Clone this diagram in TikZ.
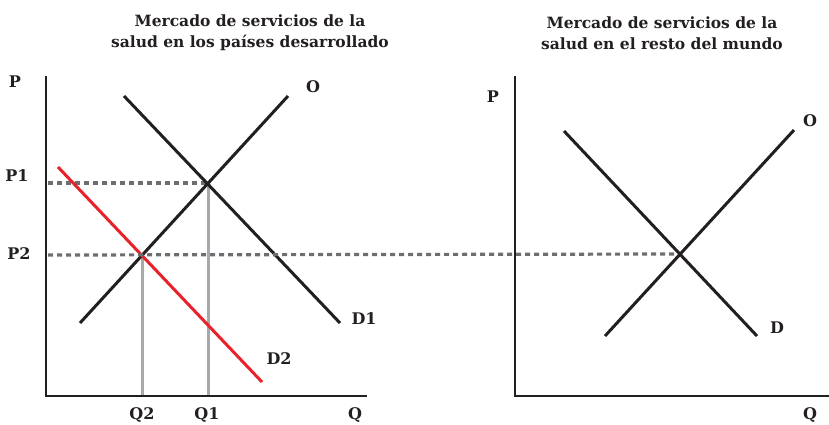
\documentclass[tikz,border=0pt]{standalone}
\usepackage{fontspec}
\setmainfont{DejaVu Serif}
\usetikzlibrary{positioning}

\definecolor{curveblack}{HTML}{231F20}
\definecolor{demandred}{HTML}{E8212A}
\definecolor{guidegray}{HTML}{A7A9AC}
\definecolor{dashgray}{HTML}{6D6E71}

\begin{document}
\begin{tikzpicture}[
		x=1pt, y=-1pt,
		curve/.style={line width=3pt, draw=curveblack},
		axis/.style={line width=2pt, draw=curveblack},
		guide/.style={line width=3pt, draw=guidegray},
		level/.style={line width=3.2pt, draw=dashgray, dash pattern=on 5pt off 4pt},
		lbl/.style={font=\bfseries\fontsize{16}{18}\selectfont, text=curveblack, inner sep=0pt},
		title/.style={font=\bfseries\fontsize{15.5}{21}\selectfont, align=center, text=curveblack},
	]
		\useasboundingbox (0,0) rectangle (829,424);

		% titles
		\node [title] (titleleft) at (250,33) {Mercado de servicios de la\\salud en los países desarrollado};
		\node [title] (titleright) at (662,33) {Mercado de servicios de la\\salud en el resto del mundo};

		% left market
		\coordinate (ltop) at (46,76);
		\coordinate (lorigin) at (46,396);
		\coordinate (lend) at (367,396);
		\coordinate (eqone) at (208,183);
		\coordinate (eqtwo) at (142,255);
		\coordinate (pone) at (48,183);
		\coordinate (ptwo) at (48,255);
		\coordinate (qone) at (208,395);
		\coordinate (qtwo) at (142,395);

		\draw [level] (pone) -- (eqone);
		\draw [guide] (eqone) -- (qone);
		\draw [guide] (eqtwo) -- (qtwo);

		\draw [curve] (80,323) coordinate (olow) -- (288,96) coordinate (ohigh);
		\draw [curve] (124,96) coordinate (donehigh) -- (340,323) coordinate (donelow);
		\draw [curve, draw=demandred] (58,167) coordinate (dtwohigh) -- (262,382) coordinate (dtwolow);
		\draw [axis] (ltop) -- (lorigin) -- (lend);

		\node [lbl] (lp) at (15,82) {P};
		\node [lbl] (lo) at (313,87) {O};
		\node [lbl] (lpone) at (17,176) {P1};
		\node [lbl] (lptwo) at (19,254) {P2};
		\node [lbl] (ldone) at (364,319) {D1};
		\node [lbl] (ldtwo) at (279,359) {D2};
		\node [lbl] (lqtwo) at (142,415) {Q2};
		\node [lbl] (lqone) at (207,415) {Q1};
		\node [lbl] (lq) at (355,415) {Q};

		% right market
		\coordinate (rtop) at (515,76);
		\coordinate (rorigin) at (515,396);
		\coordinate (rend) at (829,396);
		\coordinate (eqrest) at (679,254);

		\draw [level] (ptwo) -- (eqrest);
		\draw [curve] (605,336) coordinate (rolow) -- (794,130) coordinate (rohigh);
		\draw [curve] (564,131) coordinate (rdhigh) -- (757,336) coordinate (rdlow);
		\draw [axis] (rtop) -- (rorigin) -- (rend);

		\node [lbl] (rp) at (493,97) {P};
		\node [lbl] (ro) at (810,121) {O};
		\node [lbl] (rd) at (777,328) {D};
		\node [lbl] (rq) at (810,415) {Q};
	\end{tikzpicture}
\end{document}
